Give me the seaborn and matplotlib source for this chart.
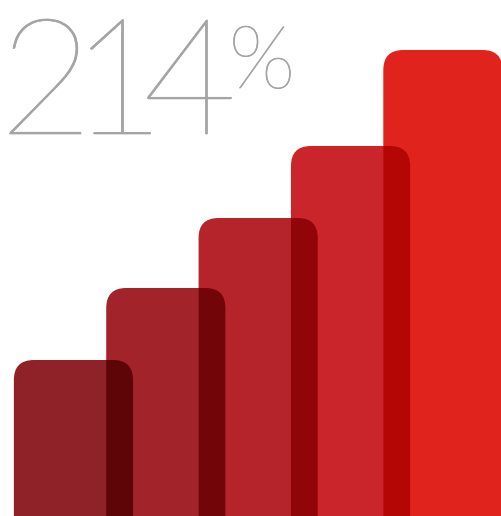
import matplotlib
matplotlib.use("Agg")
import matplotlib.pyplot as plt
import matplotlib.patheffects as pe
import seaborn as sns
from matplotlib.patches import FancyBboxPatch

# bar heights (px above the bottom edge) and colours
labels = ["A", "B", "C", "D", "E"]
heights = [156, 228, 298, 370, 466]
colors = ["#8e2228", "#a3232b", "#b5232b", "#c9252a", "#e0231c"]
overlap_colors = ["#5e0508", "#720508", "#900508", "#b50606"]
big_text = "214"
small_text = "%"

sns.set_theme(style="white")

fig = plt.figure(figsize=(5.02, 5.16), dpi=100)
ax = fig.add_axes([0, 0, 1, 1])

sns.barplot(x=labels, y=heights, hue=labels, palette=colors, legend=False,
            width=1.29, saturation=1, ax=ax)
ax.set_xlim(-0.795, 4.64)
ax.set_ylim(0, 516)
ax.axis("off")

# make the bars rounded
fig.canvas.draw()
px_x = ax.transData.transform((1, 0))[0] - ax.transData.transform((0, 0))[0]
px_y = ax.transData.transform((0, 1))[1] - ax.transData.transform((0, 0))[1]
aspect = px_x / px_y
radius = 20 / px_x

old = list(ax.patches)
boxes = []
for p, c in zip(old, colors):
    x, w, h = p.get_x(), p.get_width(), p.get_height()
    box = FancyBboxPatch((x, -40), w, h + 40,
                         boxstyle=f"round,pad=0,rounding_size={radius}",
                         mutation_aspect=aspect, fc=c, ec="none", zorder=2)
    ax.add_patch(box)
    boxes.append(box)
    p.remove()

# darker overlap where each bar sits on the next one
for i, c in enumerate(overlap_colors):
    nxt = boxes[i + 1]
    dark = FancyBboxPatch((nxt.get_x(), nxt.get_y()),
                          nxt.get_width(), nxt.get_height(),
                          boxstyle=f"round,pad=0,rounding_size={radius}",
                          mutation_aspect=aspect, fc=c, ec="none", zorder=3)
    ax.add_patch(dark)
    dark.set_clip_path(boxes[i])

# thin "214%" headline, tightly spaced
grey = "#a4a4a4"
fx = [pe.withStroke(linewidth=0.5, foreground=grey)]
centers = [46, 118, 190]
for ch, cx in zip(big_text, centers):
    fig.text(cx / 502, 1 - 134 / 516, ch, fontsize=117, family="Lato",
             fontweight=100, color=grey, va="baseline", ha="center",
             path_effects=fx)
fig.text(262 / 502, 1 - 88 / 516, small_text, fontsize=63, family="Lato",
         fontweight=100, color=grey, va="baseline", ha="center",
         path_effects=fx)

fig.savefig("out.png", dpi=100)
